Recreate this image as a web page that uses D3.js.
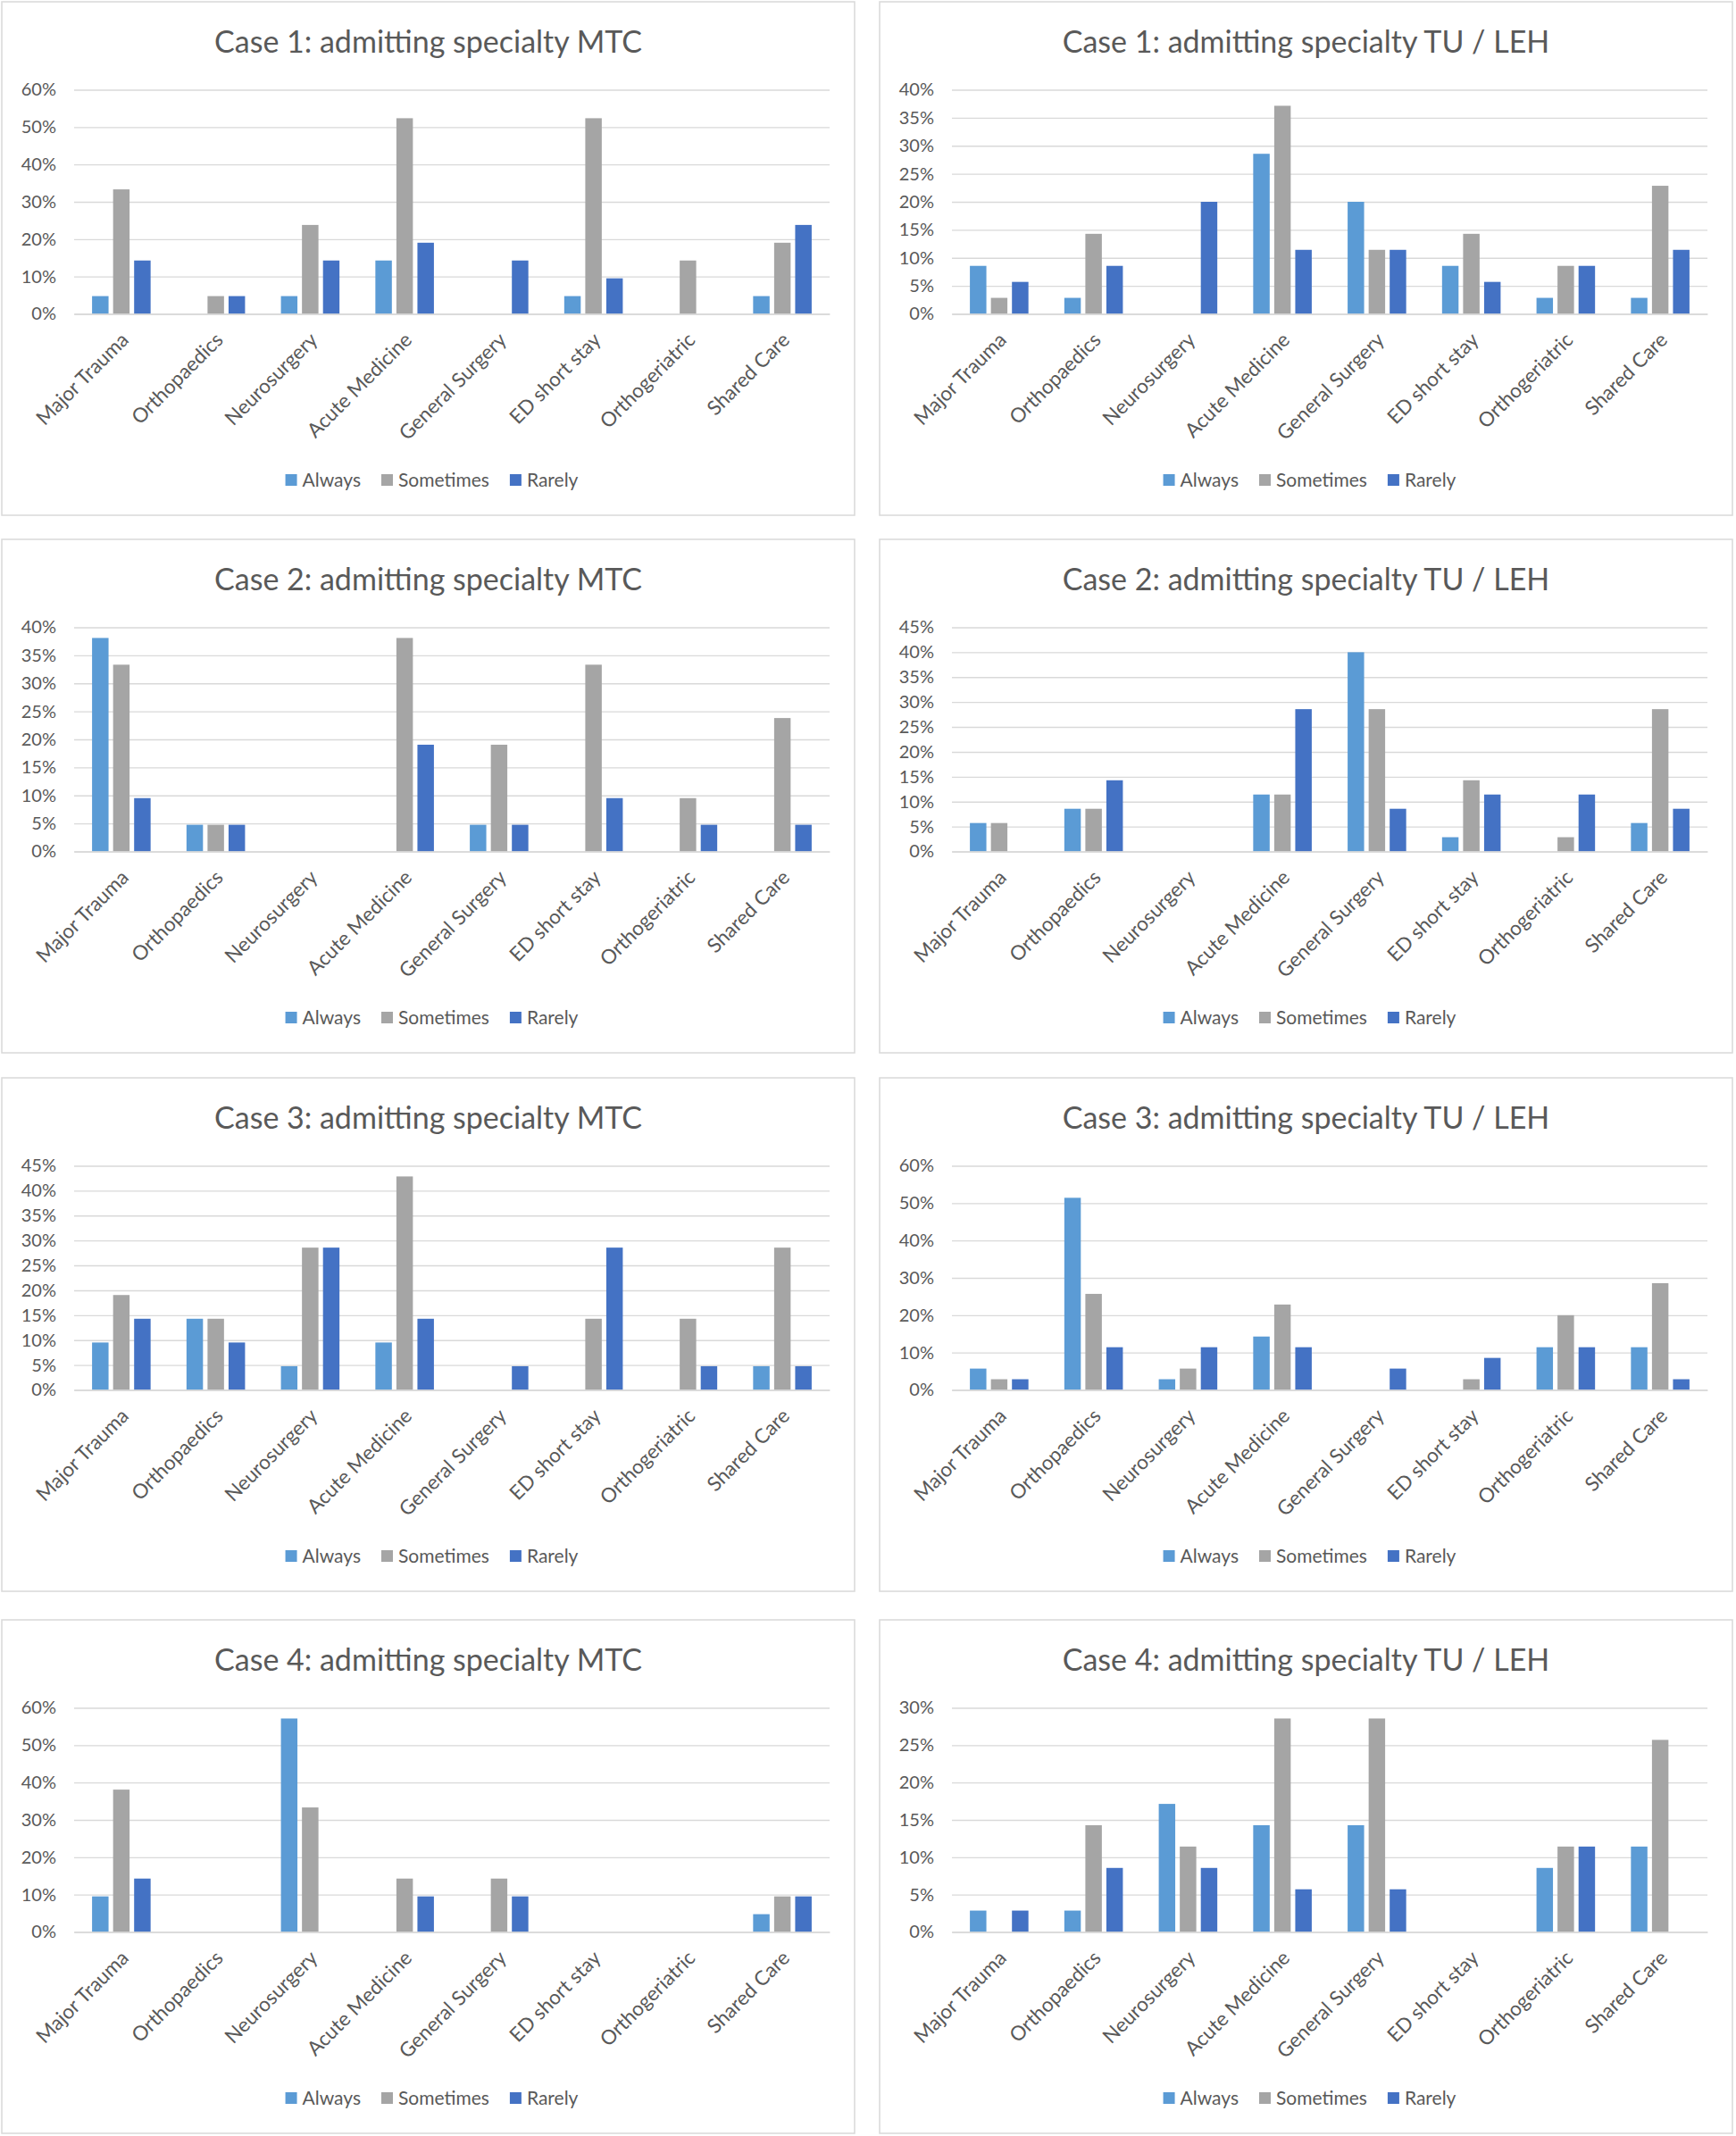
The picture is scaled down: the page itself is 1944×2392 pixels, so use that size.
<!DOCTYPE html>
<html><head><meta charset="utf-8">
<script src="https://cdn.jsdelivr.net/npm/d3@7"></script>
<style>body{margin:0;background:#fff} svg{display:block}</style>
</head><body>
<svg id="chart" width="1944" height="2392"></svg>
<script>
// ---------- DATA ----------
const categories = ["Major Trauma","Orthopaedics","Neurosurgery","Acute Medicine","General Surgery","ED short stay","Orthogeriatric","Shared Care"];
const seriesNames = ["Always","Sometimes","Rarely"];
const panelTitles = [
  "Case 1: admitting specialty MTC","Case 1: admitting specialty TU / LEH",
  "Case 2: admitting specialty MTC","Case 2: admitting specialty TU / LEH",
  "Case 3: admitting specialty MTC","Case 3: admitting specialty TU / LEH",
  "Case 4: admitting specialty MTC","Case 4: admitting specialty TU / LEH"
];
const yMaxes = [60, 40, 40, 45, 45, 60, 60, 30];
const yTickSteps = [10, 5, 5, 5, 5, 10, 10, 5];

// values in %, order: Always, Sometimes, Rarely
const case1MTC = [
  [4.76, 0, 4.76, 14.29, 0, 4.76, 0, 4.76],
  [33.33, 4.76, 23.81, 52.38, 0, 52.38, 14.29, 19.05],
  [14.29, 4.76, 14.29, 19.05, 14.29, 9.52, 0, 23.81]
];
const case1TU = [
  [8.57, 2.86, 0, 28.57, 20, 8.57, 2.86, 2.86],
  [2.86, 14.29, 0, 37.14, 11.43, 14.29, 8.57, 22.86],
  [5.71, 8.57, 20, 11.43, 11.43, 5.71, 8.57, 11.43]
];
const case2MTC = [
  [38.1, 4.76, 0, 0, 4.76, 0, 0, 0],
  [33.33, 4.76, 0, 38.1, 19.05, 33.33, 9.52, 23.81],
  [9.52, 4.76, 0, 19.05, 4.76, 9.52, 4.76, 4.76]
];
const case2TU = [
  [5.71, 8.57, 0, 11.43, 40, 2.86, 0, 5.71],
  [5.71, 8.57, 0, 11.43, 28.57, 14.29, 2.86, 28.57],
  [0, 14.29, 0, 28.57, 8.57, 11.43, 11.43, 8.57]
];
const case3MTC = [
  [9.52, 14.29, 4.76, 9.52, 0, 0, 0, 4.76],
  [19.05, 14.29, 28.57, 42.86, 0, 14.29, 14.29, 28.57],
  [14.29, 9.52, 28.57, 14.29, 4.76, 28.57, 4.76, 4.76]
];
const case3TU = [
  [5.71, 51.43, 2.86, 14.29, 0, 0, 11.43, 11.43],
  [2.86, 25.71, 5.71, 22.86, 0, 2.86, 20, 28.57],
  [2.86, 11.43, 11.43, 11.43, 5.71, 8.57, 11.43, 2.86]
];
const case4MTC = [
  [9.52, 0, 57.14, 0, 0, 0, 0, 4.76],
  [38.1, 0, 33.33, 14.29, 14.29, 0, 0, 9.52],
  [14.29, 0, 0, 9.52, 9.52, 0, 0, 9.52]
];
const case4TU = [
  [2.86, 2.86, 17.14, 14.29, 14.29, 0, 8.57, 11.43],
  [0, 14.29, 11.43, 28.57, 28.57, 0, 11.43, 25.71],
  [2.86, 8.57, 8.57, 5.71, 5.71, 0, 11.43, 0]
];
const panelData = [case1MTC, case1TU, case2MTC, case2TU, case3MTC, case3TU, case4MTC, case4TU];

// ---------- STYLE / LAYOUT ----------
const colors = ["#5b9bd5", "#a5a5a5", "#4472c4"];
const FONT = "Lato, 'Open Sans', sans-serif";
const textColor = "#595959";
const gridColor = "#d9d9d9";
const colX = [2, 985], rowY = [2, 604, 1207, 1814];
const panelW = 955, panelH = 575;
const plotL = 81, plotR = 927, plotT = 98.5, plotB = 349.5;

const svg = d3.select("#chart");
svg.append("rect").attr("width", 1944).attr("height", 2392).attr("fill", "#fff");

panelData.forEach((data, p) => {
  const g = svg.append("g").attr("transform", `translate(${colX[p % 2]},${rowY[Math.floor(p / 2)]})`);
  g.append("rect").attr("x", 0).attr("y", 0).attr("width", panelW).attr("height", panelH)
    .attr("fill", "#fff").attr("stroke", gridColor).attr("stroke-width", 1.5);

  g.append("text").attr("x", panelW / 2).attr("y", 57).attr("text-anchor", "middle")
    .attr("font-family", FONT).attr("font-size", 34).attr("fill", textColor).text(panelTitles[p]);

  const y = d3.scaleLinear().domain([0, yMaxes[p]]).range([plotB, plotT]);
  const x0 = d3.scaleBand().domain(categories).range([plotL, plotR]).padding(0);
  const bw = x0.bandwidth();
  const x1 = d3.scaleBand().domain(seriesNames).range([bw * 0.19, bw * 0.81]).paddingInner(0.216).paddingOuter(0);

  const ticks = d3.range(0, yMaxes[p] + 0.001, yTickSteps[p]);
  const yAxis = d3.axisLeft(y).tickValues(ticks).tickSize(-(plotR - plotL)).tickPadding(20)
    .tickFormat(d => d + "%");
  const ax = g.append("g").attr("transform", `translate(${plotL},0)`).call(yAxis);
  ax.select(".domain").remove();
  ax.selectAll(".tick line").attr("stroke", gridColor).attr("stroke-width", 1.4);
  ax.selectAll(".tick text").attr("font-family", FONT).attr("font-size", 20).attr("fill", textColor);

  // bars
  const groups = g.append("g").selectAll("g").data(categories).join("g")
    .attr("transform", d => `translate(${x0(d)},0)`);
  groups.selectAll("rect").data((c, ci) => seriesNames.map((s, si) => ({ s, si, v: data[si][ci] })).filter(d => d.v > 0))
    .join("rect")
    .attr("x", d => x1(d.s)).attr("width", x1.bandwidth())
    .attr("y", d => y(d.v)).attr("height", d => plotB - y(d.v))
    .attr("fill", d => colors[d.si]);

  // x axis baseline
  const xAxis = d3.axisBottom(x0).tickSize(0).tickPadding(0);
  const xa = g.append("g").attr("transform", `translate(0,${plotB})`).call(xAxis);
  xa.select(".domain").attr("stroke", gridColor).attr("stroke-width", 1.4);
  xa.selectAll(".tick text")
    .attr("font-family", FONT).attr("font-size", 22.5).attr("fill", textColor)
    .attr("text-anchor", "end").attr("dy", "0.35em")
    .attr("transform", "translate(4,25) rotate(-45)");

  // legend
  const lg = g.append("g");
  let cx = 0;
  seriesNames.forEach((s, i) => {
    const it = lg.append("g");
    it.append("rect").attr("x", 0).attr("y", -7).attr("width", 13).attr("height", 13).attr("fill", colors[i]);
    const t = it.append("text").attr("x", 19).attr("y", 0).attr("dy", "0.35em")
      .attr("font-family", FONT).attr("font-size", 21).attr("fill", textColor).text(s);
    const w = 19 + t.node().getComputedTextLength();
    it.attr("transform", `translate(${cx},0)`);
    cx += w + 23;
  });
  const total = cx - 23;
  lg.attr("transform", `translate(${panelW / 2 - total / 2 + 4},536)`);
});
</script>
</body></html>
